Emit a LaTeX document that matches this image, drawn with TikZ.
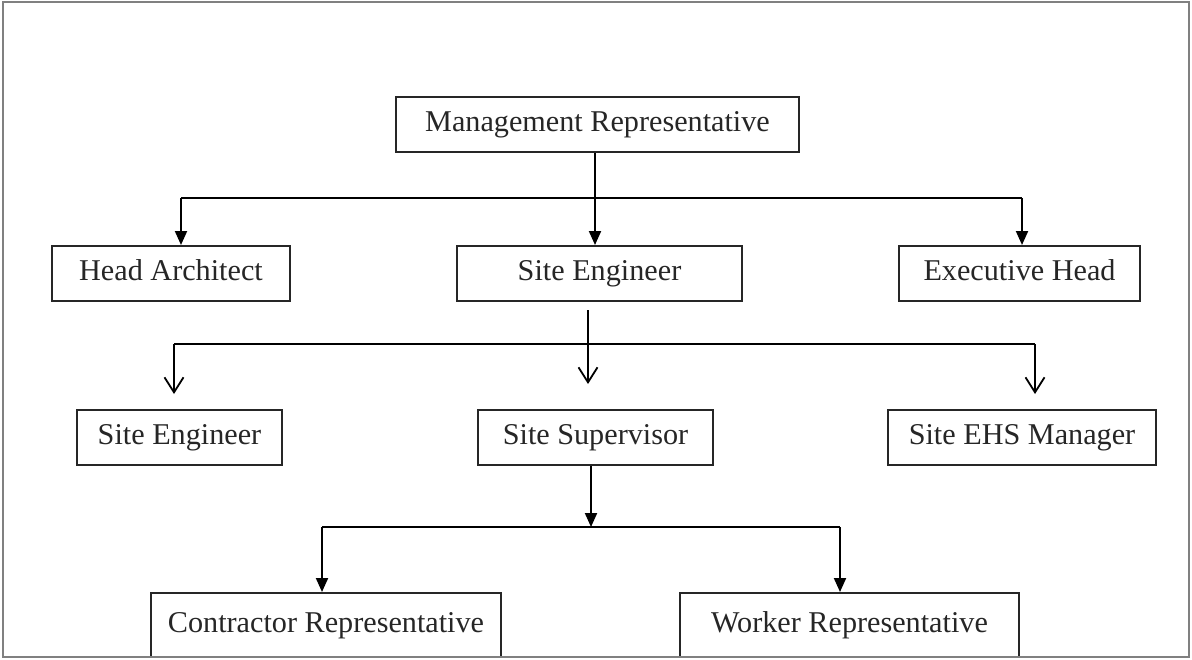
\documentclass[tikz,border=0pt]{standalone}
\usepackage{fontspec}
\setmainfont{Liberation Serif}
\usetikzlibrary{arrows.meta}
\begin{document}
\begin{tikzpicture}[x=0.5pt,y=-0.5pt,
  box/.style={draw=black!85, line width=1pt, fill=white, inner sep=0pt, minimum height=27.5pt,
    text height=0.78em, text depth=0.04em,
    font=\fontsize{15.1}{18}\selectfont, text=black!85},
  conn/.style={draw=black, line width=1pt},
  farr/.style={conn, -{Triangle[width=6pt,length=7pt]}},
  oarr/.style={conn, -{Straight Barb[width=9.5pt,length=7.5pt,line width=0.9pt]}}]
\useasboundingbox (0,0) rectangle (1192,659);
% nodes
\node[box, minimum width=201.5pt] (mr) at (597.5,124.5) {Management Representative};
\node[box, minimum width=119pt] (ha) at (171,273.5) {Head Architect};
\node[box, minimum width=142.5pt] (se) at (599.5,273.5) {Site Engineer};
\node[box, minimum width=120.5pt] (eh) at (1019.5,273.5) {Executive Head};
\node[box, minimum width=102.5pt] (se2) at (179.5,437.5) {Site Engineer};
\node[box, minimum width=117.5pt] (ss) at (595.5,437.5) {Site Supervisor};
\node[box, minimum width=134pt] (ehs) at (1022,437.5) {Site EHS Manager};
\node[box, minimum width=175pt, minimum height=32pt] (cr) at (326,625) {Contractor Representative};
\node[box, minimum width=169.5pt, minimum height=32pt] (wr) at (849.5,625) {Worker Representative};
% row 1 connectors
\coordinate (b1l) at (181,198);
\coordinate (b1r) at (1022,198);
\draw[conn] (b1l) -- (b1r);
\draw[farr] (mr.south -| 595,0) -- (se.north -| 595,0);
\draw[farr] (b1l) -- (ha.north -| b1l);
\draw[farr] (b1r) -- (eh.north -| b1r);
% row 2 connectors
\coordinate (c2s) at (588,310);
\coordinate (c2e) at (588,384);
\coordinate (b2l) at (174,344);
\coordinate (b2r) at (1035,344);
\coordinate (t2l) at (174,394);
\coordinate (t2r) at (1035,394);
\draw[conn] (b2l) -- (b2r);
\draw[oarr] (c2s) -- (c2e);
\draw[oarr] (b2l) -- (t2l);
\draw[oarr] (b2r) -- (t2r);
% row 3 connectors
\coordinate (b3l) at (322,527);
\coordinate (b3r) at (840,527);
\coordinate (b3c) at (591,527);
\draw[conn] (b3l) -- (b3r);
\draw[farr] (ss.south -| b3c) -- (b3c);
\draw[farr] (b3l) -- (cr.north -| b3l);
\draw[farr] (b3r) -- (wr.north -| b3r);
% frame
\draw[draw=black!50, line width=1.2pt] (3,2) rectangle (1189,657);
\end{tikzpicture}
\end{document}
